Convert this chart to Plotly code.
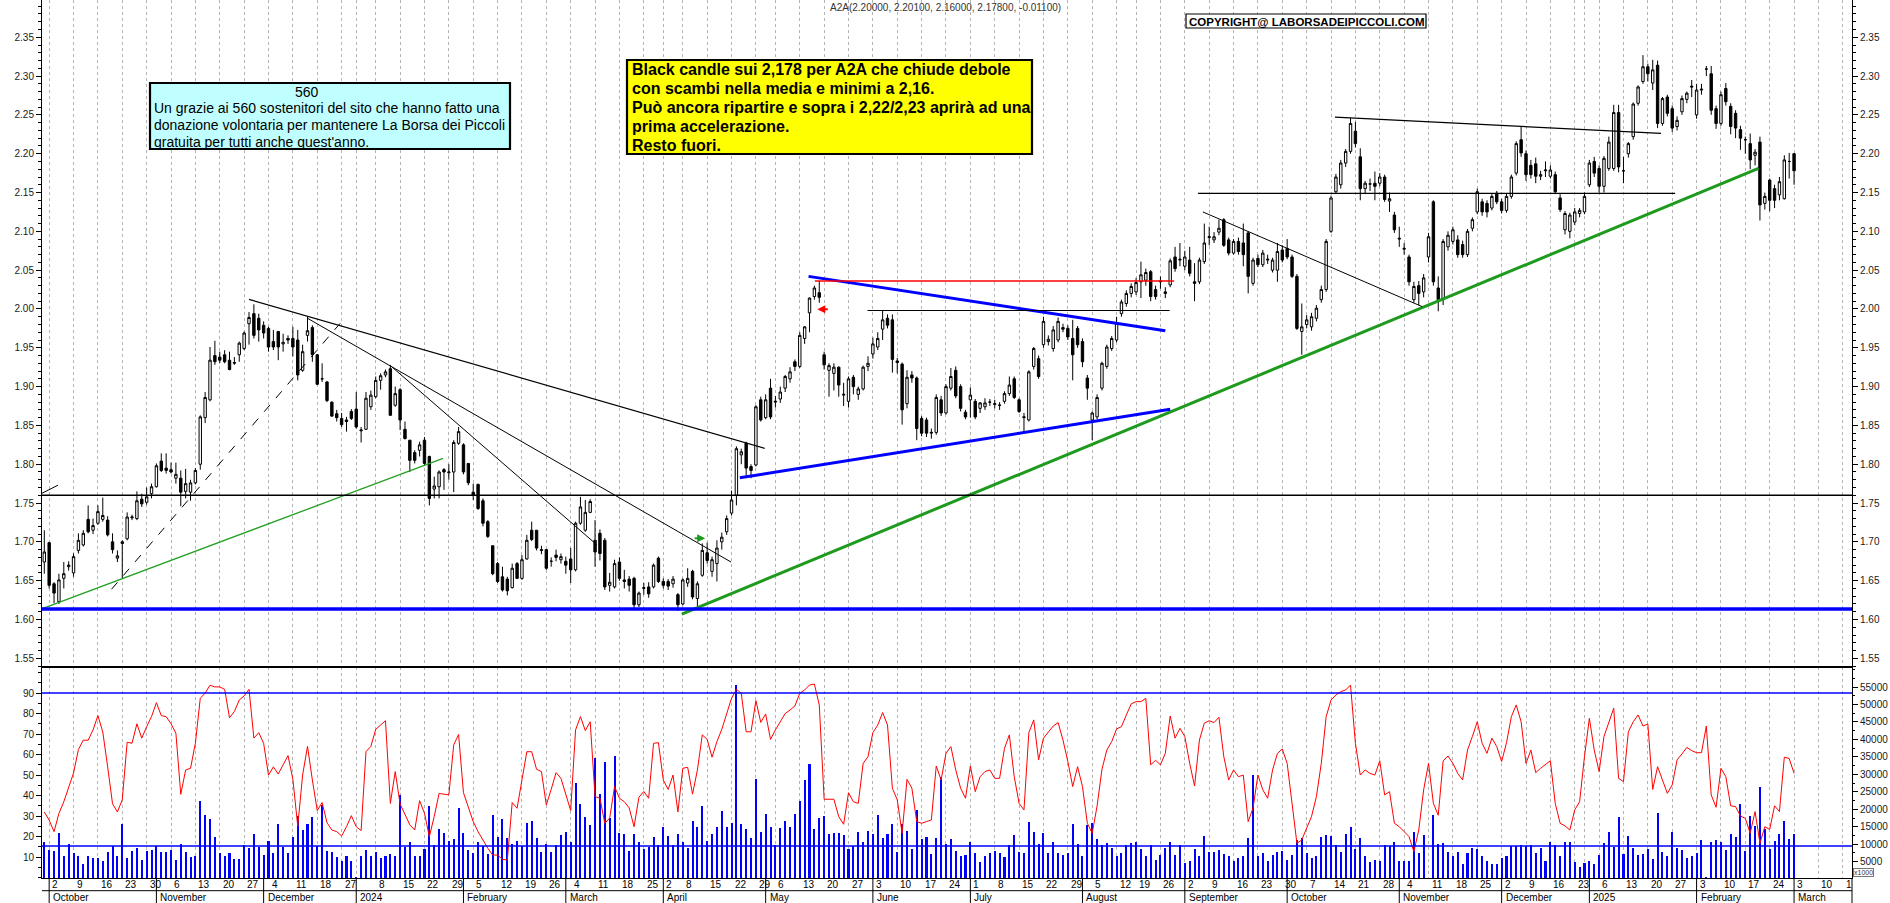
import pandas as pd
import plotly.graph_objects as go

# ---------------------------------------------------------------- data
TITLE = "A2A(2.20000, 2.20100, 2.16000, 2.17800, -0.01100)"
COPYRIGHT = "COPYRIGHT@ LABORSADEIPICCOLI.COM"
CYAN_TITLE = "560"
CYAN_LINES = [
    "Un grazie ai 560 sostenitori del sito che hanno fatto una",
    "donazione volontaria per mantenere La Borsa dei Piccoli",
    "gratuita per tutti anche quest'anno.",
]
YELLOW_LINES = [
    "Black candle sui 2,178 per A2A che chiude debole",
    "con scambi nella media e minimi a 2,16.",
    "Può ancora ripartire e sopra i 2,22/2,23 aprirà ad una",
    "prima accelerazione.",
    "Resto fuori.",
]

FIRST_SESSION = "2023-09-29"
AXIS_END = "2025-03-21"
HOLIDAYS = ["2023-12-25", "2023-12-26", "2024-01-01", "2024-03-29", "2024-04-01",
            "2024-05-01", "2024-08-15", "2024-12-24", "2024-12-25", "2024-12-26",
            "2024-12-31", "2025-01-01"]
SKIP_DAY_LABELS = ["2024-01-02", "2024-12-30"]
MONTH_NAMES = {2: "February", 3: "March", 4: "April", 5: "May", 6: "June", 7: "July",
               8: "August", 9: "September", 10: "October", 11: "November", 12: "December"}

# (open, high, low, close) per session
OHLC_2023 = [  # sessions 0-63
    (1.674,1.715,1.659,1.687),(1.699,1.700,1.640,1.644),(1.646,1.648,1.621,1.634),(1.623,1.659,1.620,1.651),(1.653,1.674,1.640,1.659),
    (1.668,1.675,1.663,1.670),(1.660,1.685,1.655,1.681),(1.689,1.711,1.685,1.702),(1.696,1.715,1.694,1.711),(1.729,1.747,1.711,1.713),
    (1.715,1.730,1.710,1.721),(1.724,1.747,1.722,1.739),(1.729,1.757,1.726,1.734),(1.728,1.733,1.707,1.709),(1.700,1.711,1.685,1.690),
    (1.679,1.689,1.674,1.682),(1.700,1.702,1.653,1.698),(1.704,1.738,1.702,1.732),(1.731,1.735,1.728,1.732),(1.730,1.765,1.728,1.753),
    (1.755,1.762,1.745,1.749),(1.751,1.770,1.748,1.758),(1.762,1.775,1.756,1.771),(1.771,1.801,1.770,1.798),(1.804,1.814,1.790,1.792),
    (1.795,1.814,1.788,1.792),(1.793,1.802,1.788,1.790),(1.782,1.802,1.775,1.787),(1.782,1.792,1.746,1.764),(1.765,1.794,1.756,1.775),
    (1.764,1.780,1.753,1.776),(1.776,1.795,1.774,1.792),(1.800,1.863,1.793,1.861),(1.860,1.893,1.853,1.886),(1.883,1.951,1.881,1.934),
    (1.940,1.959,1.928,1.932),(1.938,1.945,1.930,1.934),(1.941,1.947,1.930,1.932),(1.934,1.945,1.921,1.922),(1.930,1.938,1.928,1.931),
    (1.941,1.958,1.932,1.956),(1.949,1.971,1.947,1.969),(1.981,1.996,1.954,1.989),(1.994,2.006,1.962,1.966),(1.988,1.994,1.958,1.973),
    (1.979,1.984,1.962,1.969),(1.975,1.977,1.945,1.951),(1.958,1.973,1.947,1.951),(1.971,1.971,1.934,1.951),(1.955,1.968,1.945,1.957),
    (1.962,1.966,1.955,1.960),(1.962,1.977,1.939,1.951),(1.960,1.973,1.908,1.915),(1.921,1.954,1.919,1.945),(1.966,1.990,1.958,1.972),
    (1.976,1.979,1.932,1.941),(1.941,1.942,1.902,1.903),(1.910,1.930,1.906,1.910),(1.906,1.907,1.880,1.882),(1.880,1.881,1.861,1.862),
    (1.865,1.870,1.855,1.860),(1.859,1.866,1.848,1.851),(1.857,1.861,1.842,1.855),(1.868,1.871,1.857,1.859),
]
OHLC_2024_Q1 = [  # sessions 64-126
    (1.871,1.893,1.846,1.848),(1.843,1.848,1.828,1.844),(1.845,1.893,1.844,1.885),(1.874,1.895,1.870,1.889),(1.887,1.913,1.885,1.908),(1.908,1.917,1.896,1.914),
    (1.915,1.922,1.912,1.919),(1.923,1.928,1.863,1.863),(1.876,1.900,1.874,1.891),(1.896,1.898,1.844,1.857),(1.845,1.855,1.832,1.833),
    (1.831,1.831,1.790,1.805),(1.815,1.818,1.801,1.805),(1.818,1.829,1.810,1.825),(1.831,1.835,1.799,1.801),(1.810,1.811,1.747,1.756),
    (1.768,1.784,1.756,1.772),(1.771,1.792,1.756,1.790),(1.793,1.795,1.767,1.790),(1.789,1.800,1.780,1.790),(1.790,1.831,1.764,1.828),
    (1.827,1.848,1.825,1.842),(1.825,1.827,1.787,1.790),(1.801,1.801,1.773,1.776),(1.764,1.775,1.754,1.760),(1.774,1.775,1.741,1.743),
    (1.753,1.756,1.720,1.724),(1.726,1.728,1.705,1.707),(1.695,1.695,1.657,1.659),(1.672,1.674,1.647,1.649),(1.655,1.668,1.636,1.638),
    (1.652,1.655,1.631,1.637),(1.641,1.672,1.640,1.666),(1.672,1.674,1.652,1.653),(1.653,1.683,1.651,1.677),(1.678,1.709,1.677,1.702),
    (1.715,1.726,1.701,1.703),(1.715,1.715,1.689,1.692),(1.690,1.695,1.684,1.689),(1.690,1.691,1.664,1.666),(1.675,1.680,1.668,1.675),
    (1.683,1.690,1.675,1.680),(1.677,1.685,1.672,1.681),(1.675,1.681,1.659,1.670),(1.678,1.692,1.647,1.664),(1.664,1.726,1.662,1.724),
    (1.724,1.758,1.722,1.745),(1.715,1.754,1.713,1.738),(1.738,1.755,1.737,1.752),(1.702,1.728,1.668,1.687),(1.711,1.716,1.676,1.685),
    (1.702,1.705,1.638,1.642),(1.644,1.660,1.636,1.648),(1.642,1.677,1.640,1.672),(1.674,1.680,1.650,1.653),(1.651,1.664,1.640,1.649),
    (1.652,1.656,1.636,1.644),(1.653,1.655,1.612,1.619),(1.619,1.636,1.616,1.634),(1.640,1.647,1.632,1.641),(1.642,1.648,1.628,1.633),
    (1.642,1.672,1.640,1.670),(1.679,1.681,1.647,1.649),
]
OHLC_2024_Q2 = [  # sessions 127-189
    (1.649,1.653,1.640,1.644),(1.649,1.652,1.638,1.643),(1.646,1.656,1.641,1.652),
    (1.632,1.634,1.611,1.619),(1.620,1.653,1.618,1.651),(1.647,1.666,1.642,1.653),(1.662,1.664,1.626,1.629),(1.627,1.649,1.617,1.646),
    (1.657,1.698,1.655,1.689),(1.686,1.699,1.672,1.676),(1.662,1.681,1.655,1.677),(1.672,1.702,1.649,1.692),(1.700,1.712,1.690,1.706),
    (1.713,1.734,1.709,1.730),(1.737,1.766,1.734,1.754),(1.760,1.823,1.747,1.820),(1.812,1.820,1.800,1.816),(1.827,1.829,1.785,1.795),
    (1.797,1.800,1.782,1.792),(1.799,1.876,1.797,1.874),(1.883,1.887,1.855,1.857),(1.860,1.890,1.858,1.883),(1.898,1.910,1.858,1.861),
    (1.880,1.888,1.873,1.881),(1.884,1.900,1.879,1.893),(1.898,1.915,1.893,1.913),(1.910,1.925,1.905,1.919),(1.932,1.935,1.920,1.926),
    (1.926,1.970,1.924,1.966),(1.962,1.978,1.955,1.977),(1.995,2.015,1.970,2.014),(2.016,2.030,2.012,2.027),(2.021,2.036,2.008,2.015),
    (1.941,1.945,1.922,1.928),(1.921,1.930,1.887,1.927),(1.917,1.930,1.895,1.925),(1.925,1.926,1.887,1.902),(1.889,1.905,1.875,1.890),
    (1.881,1.913,1.873,1.910),(1.912,1.915,1.890,1.900),(1.890,1.900,1.883,1.897),(1.897,1.927,1.895,1.925),(1.926,1.939,1.920,1.930),
    (1.942,1.963,1.936,1.955),(1.951,1.970,1.947,1.962),(1.974,1.998,1.960,1.986),(1.988,1.993,1.975,1.979),(1.986,1.993,1.918,1.935),
    (1.933,1.937,1.917,1.931),(1.929,1.931,1.851,1.870),(1.878,1.921,1.872,1.912),(1.915,1.920,1.905,1.911),(1.911,1.913,1.831,1.846),
    (1.859,1.862,1.836,1.840),(1.857,1.860,1.835,1.840),(1.840,1.846,1.833,1.841),(1.841,1.890,1.838,1.886),(1.883,1.888,1.862,1.866),
    (1.866,1.903,1.864,1.900),(1.898,1.924,1.895,1.913),(1.921,1.926,1.885,1.888),(1.900,1.903,1.868,1.872),(1.867,1.870,1.858,1.861),
]
OHLC_2024_Q3 = [  # sessions 190-253
    (1.883,1.899,1.860,1.889),(1.881,1.884,1.858,1.861),(1.872,1.880,1.866,1.879),(1.874,1.885,1.870,1.879),(1.880,1.884,1.875,1.880),
    (1.877,1.883,1.872,1.878),(1.876,1.880,1.870,1.876),(1.881,1.894,1.878,1.891),(1.891,1.913,1.888,1.902),(1.910,1.913,1.884,1.886),
    (1.883,1.885,1.866,1.868),(1.860,1.866,1.840,1.861),(1.857,1.921,1.855,1.919),(1.926,1.951,1.922,1.949),(1.936,1.940,1.910,1.913),
    (1.954,1.990,1.950,1.984),(1.958,1.966,1.953,1.961),(1.949,1.978,1.945,1.973),(1.960,1.989,1.957,1.984),(1.976,1.981,1.970,1.974),
    (1.975,1.979,1.960,1.964),(1.962,1.986,1.908,1.941),(1.975,1.978,1.950,1.954),(1.958,1.962,1.925,1.932),(1.911,1.915,1.883,1.898),
    (1.857,1.868,1.831,1.866),(1.861,1.890,1.858,1.886),(1.898,1.932,1.895,1.930),(1.926,1.954,1.923,1.951),(1.949,1.965,1.946,1.962),
    (1.960,1.990,1.957,1.982),(1.994,2.012,1.990,2.009),(2.007,2.024,2.003,2.020),(2.020,2.033,2.015,2.029),(2.022,2.040,2.018,2.034),
    (2.035,2.061,2.014,2.044),(2.037,2.052,2.030,2.047),(2.048,2.050,2.010,2.016),(2.025,2.030,2.012,2.016),(2.035,2.042,2.026,2.036),
    (2.020,2.028,2.014,2.022),(2.031,2.065,2.028,2.062),(2.067,2.080,2.048,2.052),(2.063,2.085,2.055,2.064),(2.055,2.075,2.050,2.067),
    (2.063,2.080,2.042,2.046),(2.035,2.059,2.010,2.033),(2.035,2.066,2.032,2.063),(2.061,2.110,2.058,2.085),(2.092,2.106,2.082,2.093),
    (2.089,2.099,2.085,2.093),(2.099,2.115,2.095,2.104),(2.115,2.117,2.080,2.082),(2.089,2.092,2.069,2.072),(2.072,2.090,2.070,2.087),
    (2.087,2.092,2.070,2.074),(2.085,2.110,2.055,2.070),(2.098,2.100,2.020,2.042),(2.033,2.066,2.030,2.063),(2.065,2.070,2.054,2.057),
    (2.057,2.076,2.054,2.072),(2.063,2.070,2.058,2.064),(2.050,2.066,2.047,2.063),(2.050,2.085,2.035,2.074),
]
OHLC_2024_Q4 = [  # sessions 254-315
    (2.076,2.082,2.060,2.063),(2.078,2.090,2.064,2.067),(2.067,2.070,2.040,2.042),(2.042,2.045,1.973,1.975),(1.971,2.007,1.941,1.977),(1.980,1.992,1.975,1.986),
    (1.977,1.995,1.972,1.990),(1.988,2.005,1.984,2.001),(2.012,2.030,2.008,2.025),(2.025,2.090,2.022,2.087),(2.100,2.146,2.098,2.143),
    (2.151,2.174,2.148,2.170),(2.160,2.192,2.155,2.188),(2.188,2.206,2.183,2.203),(2.203,2.246,2.200,2.239),(2.229,2.241,2.208,2.213),
    (2.196,2.207,2.140,2.155),(2.155,2.165,2.148,2.162),(2.161,2.168,2.152,2.161),(2.162,2.177,2.140,2.158),(2.162,2.175,2.158,2.170),
    (2.170,2.173,2.138,2.141),(2.139,2.150,2.125,2.142),(2.121,2.125,2.098,2.102),(2.090,2.106,2.080,2.091),(2.077,2.085,2.070,2.078),
    (2.067,2.070,2.030,2.035),(2.012,2.035,2.008,2.029),(2.030,2.036,2.005,2.020),(2.022,2.045,2.015,2.040),(2.067,2.098,2.060,2.093),
    (2.138,2.140,2.030,2.035),(2.027,2.042,1.997,2.012),(2.012,2.090,2.005,2.087),(2.080,2.100,2.075,2.095),(2.087,2.106,2.083,2.102),
    (2.089,2.095,2.066,2.070),(2.083,2.088,2.066,2.070),(2.070,2.103,2.067,2.100),(2.104,2.118,2.100,2.115),(2.125,2.155,2.122,2.151),
    (2.138,2.142,2.120,2.125),(2.136,2.140,2.118,2.125),(2.130,2.148,2.127,2.145),(2.149,2.152,2.135,2.138),(2.138,2.142,2.123,2.127),
    (2.127,2.149,2.124,2.145),(2.145,2.173,2.142,2.170),(2.175,2.216,2.172,2.213),(2.218,2.235,2.196,2.201),(2.200,2.204,2.165,2.173),
    (2.185,2.192,2.168,2.173),(2.187,2.195,2.162,2.171),(2.171,2.178,2.166,2.173),(2.178,2.190,2.170,2.179),(2.171,2.185,2.168,2.179),
    (2.173,2.177,2.148,2.151),(2.143,2.148,2.125,2.128),(2.102,2.126,2.096,2.123),(2.100,2.124,2.091,2.121),(2.112,2.130,2.108,2.125),
    (2.123,2.130,2.118,2.127),
]
OHLC_2025 = [  # sessions 316-359
    (2.125,2.150,2.122,2.145),(2.160,2.192,2.157,2.188),(2.190,2.196,2.170,2.175),(2.181,2.185,2.150,2.158),
    (2.158,2.197,2.150,2.194),(2.181,2.222,2.178,2.215),(2.181,2.263,2.178,2.253),(2.253,2.263,2.176,2.183),(2.178,2.196,2.162,2.178),
    (2.200,2.215,2.195,2.213),(2.222,2.266,2.218,2.264),(2.265,2.288,2.262,2.286),(2.293,2.327,2.290,2.312),(2.312,2.316,2.293,2.303),
    (2.291,2.321,2.282,2.308),(2.314,2.320,2.233,2.239),(2.239,2.273,2.236,2.271),(2.273,2.276,2.248,2.252),(2.258,2.262,2.228,2.233),
    (2.235,2.248,2.230,2.243),(2.254,2.275,2.250,2.271),(2.270,2.280,2.265,2.278),(2.287,2.295,2.273,2.286),(2.250,2.290,2.245,2.282),
    (2.282,2.290,2.276,2.283),(2.309,2.313,2.300,2.309),(2.303,2.313,2.250,2.256),(2.258,2.262,2.232,2.239),(2.239,2.280,2.236,2.276),
    (2.284,2.291,2.262,2.267),(2.261,2.265,2.225,2.235),(2.252,2.256,2.220,2.233),(2.231,2.236,2.205,2.220),(2.218,2.222,2.200,2.218),
    (2.213,2.226,2.180,2.192),(2.198,2.206,2.185,2.202),(2.215,2.222,2.114,2.134),(2.136,2.150,2.128,2.145),(2.166,2.168,2.126,2.140),
    (2.155,2.160,2.130,2.140),(2.147,2.170,2.140,2.164),(2.142,2.198,2.141,2.192),(2.190,2.201,2.168,2.190),(2.200,2.201,2.160,2.178),
]

VOLUME_A = [  # sessions 0-124
    10700, 8400, 8100, 13300, 6700, 10100, 7400, 6600, 4400, 6600,
    6000, 6200, 5300, 7900, 9500, 6700, 15800, 6200, 8100, 8800,
    5500, 8100, 8400, 9500, 7900, 7900, 8400, 5500, 10100, 7800,
    6300, 6500, 22500, 18400, 17300, 12200, 7400, 6600, 7400, 5700,
    5700, 9700, 8800, 12900, 9100, 6900, 11000, 7600, 15800, 9300,
    7600, 12000, 18200, 14100, 15700, 17900, 9500, 21200, 8100, 7900,
    6300, 5300, 6500, 5200, 500, 6600, 8400, 6600, 7700, 6000,
    6700, 7200, 6600, 24100, 9100, 10700, 6600, 6500, 8600, 21000,
    9800, 14400, 13100, 11000, 11400, 20300, 13100, 8400, 7400, 10700,
    9600, 7200, 18400, 12200, 17200, 11700, 10100, 10800, 9500, 16200,
    16800, 11700, 7900, 10000, 7900, 9800, 12600, 13600, 10700, 27400,
    21500, 17700, 15500, 34600, 24400, 33500, 17400, 35400, 13100, 12800,
    8200, 12900, 10600, 8600, 9100,
]
VOLUME_B = [  # sessions 125-253
    12200, 9800, 15000, 12500, 9800, 12900, 10700, 8800, 16700, 14800,
    21000, 10900, 12900, 14800, 19500, 14900, 16200, 55600, 15800, 14400,
    11700, 28600, 13600, 18800, 15000, 9800, 14600, 16700, 14900, 18800,
    22500, 28400, 33000, 14500, 17600, 18200, 12900, 13100, 13100, 12700,
    8600, 9500, 13400, 10600, 13800, 12800, 18300, 11800, 12800, 15800,
    7800, 15800, 13800, 8600, 19800, 11400, 12000, 7200, 11900, 29300,
    10000, 11400, 8200, 6600, 6900, 10700, 7400, 5000, 6500, 7400,
    8200, 7400, 6300, 9800, 12700, 7900, 7400, 16300, 13400, 10000,
    13100, 7600, 10600, 7600, 6800, 7400, 15800, 10000, 6600, 15500,
    16000, 11400, 9800, 10500, 8800, 6600, 7400, 9800, 10300, 10600,
    8600, 6600, 9800, 5500, 6900, 8800, 10700, 6900, 9800, 4500,
    5300, 8600, 6600, 12400, 7900, 7900, 8400, 7100, 6500, 5300,
    6000, 6700, 11900, 29800, 6600, 7400, 5300, 6900, 7900,
]
VOLUME_C = [  # sessions 254-359
    8100, 5500, 6900, 11200, 11900, 7400, 6000, 6600, 12000, 12700,
    12500, 9800, 7900, 13000, 14900, 8600, 11700, 6600, 4800, 5500,
    5200, 9800, 9500, 10600, 5200, 5200, 5200, 13400, 7400, 12600,
    300, 18400, 10200, 10300, 7800, 6500, 7800, 4400, 7500, 8800,
    8600, 6700, 5300, 4400, 4300, 6000, 6600, 9500, 9500, 9700,
    9600, 9800, 7400, 9000, 5200, 10700, 9700, 6500, 10600, 10600,
    5000, 3600, 4700, 5300, 4300, 6900, 10300, 13500, 9300, 17800,
    7200, 12400, 8800, 6900, 7200, 8600, 5700, 18900, 7800, 6700,
    13600, 8800, 8400, 6100, 6600, 7600, 11200, 700, 10700, 11200,
    10700, 8400, 12900, 12200, 21400, 8200, 18100, 15200, 26300, 14300,
    8700, 10900, 12900, 16700, 11400, 12900,
]

OSC_A = [  # sessions 0-124
    32, 28, 22.4, 31.3, 37, 44, 51, 62.5, 67, 67,
    72, 79, 71, 54, 36, 32, 38, 66, 65.5, 75,
    68, 73.6, 78.5, 85.3, 79, 78.5, 75, 70.4, 40.6, 52.5,
    53.3, 65.5, 87.4, 90, 93.8, 93, 93, 91.8, 78, 81,
    86.6, 88.6, 91.8, 68, 70.7, 65.5, 50, 54, 50.5, 55,
    59.5, 48, 25, 50, 64, 47.6, 32.7, 36.6, 26.8, 23.2,
    22.4, 20.3, 24.8, 30.2, 24.8, 22.9, 61.4, 64, 72.3, 74.4,
    76.5, 36.2, 51.7, 35.9, 31, 25.7, 23.2, 37.5, 31.4, 20,
    29.8, 41, 40.7, 40.3, 64.7, 69.8, 41.4, 34.6, 27.3, 22.4,
    18.3, 14.3, 11, 11, 8.9, 8.6, 36.6, 33.8, 47.6, 61.4,
    61.4, 52.8, 51.7, 35.4, 43, 51.2, 48.4, 40.3, 32.7, 72,
    78.5, 71.7, 76, 39.5, 38.7, 26.5, 29, 44.4, 38.7, 37,
    34, 24.8, 39.2, 42, 38.7,
]
OSC_B = [  # sessions 125-253
    65.5, 65.8, 47.6, 43, 50, 32, 53.3, 53.8, 40.7, 52.5,
    69.6, 67.4, 58.7, 66.3, 72.3, 80, 87.4, 91.8, 89.9, 71.1,
    71.1, 86.3, 75.7, 79.8, 67.4, 72, 76, 80, 81.7, 83.7,
    89.9, 91.5, 93.9, 94.4, 84.2, 38.2, 38.2, 38.2, 29.7, 26,
    41.4, 37, 36.2, 55.7, 59, 70.7, 74.4, 80.5, 74.4, 43.6,
    37.9, 21.6, 47.9, 43.6, 27.3, 26.5, 27.3, 28.1, 54.4, 47.6,
    60.6, 63.9, 52.5, 43.6, 38.7, 54.4, 41.9, 49.2, 51.7, 52.5,
    48.4, 48.4, 63, 69.6, 49.2, 36.2, 33, 70.7, 76.9, 57.4,
    68, 71.1, 73.9, 75.6, 67.1, 56.6, 44.4, 54.1, 44.4, 26.5,
    21.6, 34.9, 52.8, 62.2, 66.3, 72.5, 73.6, 79.3, 84.7, 85.8,
    85.8, 87.4, 55, 57.2, 55, 60.6, 78.8, 68, 72.8, 68.8,
    55.7, 44.7, 67.1, 75.3, 76.5, 75.6, 78.2, 59, 47.6, 52.5,
    49.2, 50, 27.3, 34, 50, 42.8, 38.7, 52.5, 60.6,
]
OSC_C = [  # sessions 254-359
    62.7, 55.7, 36.2, 16.7, 18.4, 24, 29.8, 39.5, 55.7, 78.5,
    86.6, 89, 90.7, 91.5, 93.9, 65.5, 50, 52.5, 50.8, 50,
    57, 40.3, 41.9, 26.5, 24.8, 22.4, 20, 12.7, 23.2, 42.8,
    55.7, 36.2, 30.4, 56.9, 59.3, 55.7, 50.8, 47.6, 62.2, 68.8,
    76, 65.5, 60.6, 68, 63.9, 56.6, 65.8, 78.5, 84.2, 76,
    55.7, 62.2, 51.2, 53.3, 55, 57, 36.2, 26.5, 25.2, 23.2,
    33, 37, 59, 77.7, 62.2, 51.7, 68.8, 75.3, 82.6, 48.4,
    46.8, 71.1, 76, 79.3, 73.9, 74.9, 43, 54.1, 47.6, 41.1,
    45.2, 57.4, 60.3, 63.5, 61.9, 60.9, 60.9, 73.9, 40.3, 34.3,
    53.3, 49.2, 35, 34.6, 30, 28.9, 21.6, 32.2, 16.7, 24.8,
    23.5, 35, 32.2, 58.7, 58.1, 50.8,
]

PRICE_TICKS = [1.55, 1.60, 1.65, 1.70, 1.75, 1.80, 1.85, 1.90, 1.95, 2.00,
               2.05, 2.10, 2.15, 2.20, 2.25, 2.30, 2.35]
OSC_TICKS = [10, 20, 30, 40, 50, 60, 70, 80, 90]
VOL_TICKS = [5000, 10000, 15000, 20000, 25000, 30000, 35000, 40000, 45000, 50000, 55000]

# drawn lines: (session0, price0, session1, price1)
TRENDLINES = {
    "res_long":     (42.0, 2.0124, 147.8, 1.8205),
    "res_mid":      (54.0, 1.988, 140.9, 1.674),
    "res_short":    (71.2, 1.926, 113.4, 1.696),
    "sup_dashed":   (13.8, 1.639, 60.7, 1.9815),
    "sup_green_thin": (-0.4, 1.614, 81.8, 1.8075),
    "stub":         (-0.5, 1.7625, 2.8, 1.773),
    "sup_green":    (130.8, 1.607, 351.7, 2.181),
    "tri_top":      (156.8, 2.042, 230.0, 1.972),
    "tri_bottom":   (142.7, 1.7826, 231.0, 1.8707),
    "lvl_1998":     (168.9, 1.998, 230.9, 1.998),
    "lvl_2036":     (158.1, 2.036, 231.8, 2.036),
    "res_autumn":   (237.7, 2.125, 282.7, 2.003),
    "res_top":      (264.8, 2.247, 331.7, 2.2263),
    "lvl_2149":     (236.7, 2.149, 334.6, 2.149),
}
FULL_PRICE_LEVELS = {"lvl_176": 1.760, "lvl_1614": 1.6135}
OSC_LEVELS = [90, 15.4]
ARROWS = {"red": (158.6, 1.9996), "green": (135.6, 1.7046)}

# ---------------------------------------------------------------- styles
LINE_STYLE = {
    "res_long": ("black", 1.2, "solid"), "res_mid": ("black", 1, "solid"),
    "res_short": ("black", 1, "solid"), "sup_dashed": ("black", 1, "dash"),
    "sup_green_thin": ("#22a022", 1.3, "solid"), "stub": ("black", 1, "solid"),
    "sup_green": ("#1e9a1e", 3, "solid"), "tri_top": ("#0000ff", 3, "solid"),
    "tri_bottom": ("#0000ff", 3, "solid"), "lvl_1998": ("black", 1.2, "solid"),
    "lvl_2036": ("#ff0000", 1.5, "solid"), "res_autumn": ("black", 1, "solid"),
    "res_top": ("black", 1.2, "solid"), "lvl_2149": ("black", 1.3, "solid"),
}
FULL_STYLE = {"lvl_176": ("black", 1.5), "lvl_1614": ("#0000ff", 3.5)}

W, H = 1890, 903
ML, MR, MT, MB = 42, 38, 0, 25
PW, PH = W - ML - MR, H - MT - MB
SESSION_PX = 4.874
FIRST_PX = 44.3  # pixel centre of session 0


def pxx(v):
    return (v - ML) / PW


def pyy(v):
    return (H - MB - v) / PH


SPLIT = pyy(667)
X_RANGE = [(ML - FIRST_PX) / SESSION_PX, (W - MR - FIRST_PX) / SESSION_PX]

# ---------------------------------------------------------------- build
ohlc = OHLC_2023 + OHLC_2024_Q1 + OHLC_2024_Q2 + OHLC_2024_Q3 + OHLC_2024_Q4 + OHLC_2025
n = len(ohlc)
xs = list(range(n))
opens = [r[0] for r in ohlc]
highs = [r[1] for r in ohlc]
lows = [r[2] for r in ohlc]
closes = [r[3] for r in ohlc]
volume = VOLUME_A + VOLUME_B + VOLUME_C
osc = OSC_A + OSC_B + OSC_C

cal = pd.bdate_range(FIRST_SESSION, AXIS_END)
cal = cal[~cal.isin(pd.to_datetime(HOLIDAYS))]
week_starts = [i for i in range(1, len(cal))
               if cal[i].isocalendar()[1] != cal[i - 1].isocalendar()[1] and i <= X_RANGE[1]]
month_starts = [i for i in range(1, len(cal)) if cal[i].month != cal[i - 1].month and i <= X_RANGE[1]]

fig = go.Figure()
fig.add_trace(go.Bar(x=xs, y=volume, xaxis="x", yaxis="y2", width=0.42,
                     marker=dict(color="#0000ff", line=dict(width=0)), hoverinfo="skip"))
fig.add_trace(go.Scatter(x=xs, y=osc, xaxis="x", yaxis="y3", mode="lines",
                         line=dict(color="#ff0000", width=1), hoverinfo="skip"))
fig.add_trace(go.Candlestick(x=xs, open=opens, high=highs, low=lows, close=closes,
                             xaxis="x", yaxis="y", whiskerwidth=0,
                             increasing=dict(line=dict(color="black", width=1), fillcolor="white"),
                             decreasing=dict(line=dict(color="black", width=1), fillcolor="black"),
                             hoverinfo="skip"))
fig.add_trace(go.Scatter(x=[xs[0]], y=[closes[0]], xaxis="x", yaxis="y4", mode="markers",
                         marker=dict(opacity=0), hoverinfo="skip"))

tick_font = dict(family="Liberation Sans, Arial, sans-serif", size=10, color="#1a1a1a")
common = dict(showgrid=False, zeroline=False, showline=True, linecolor="black", linewidth=1,
              ticks="outside", ticklen=5, tickwidth=1, tickcolor="black", tickfont=tick_font,
              fixedrange=True)
price_range = [1.5388, 2.398]
price_axis = dict(range=price_range, tickvals=PRICE_TICKS,
                  ticktext=[f"{v:.2f}" for v in PRICE_TICKS],
                  minor=dict(dtick=0.01, tick0=1.55, ticks="outside", ticklen=3,
                             tickcolor="black", showgrid=False), **common)

shapes = []
for name, (x0, y0, x1, y1) in TRENDLINES.items():
    c, w, d = LINE_STYLE[name]
    shapes.append(dict(type="line", xref="x", yref="y", x0=x0, y0=y0, x1=x1, y1=y1,
                       line=dict(color=c, width=w, dash=d)))
for name, lvl in FULL_PRICE_LEVELS.items():
    c, w = FULL_STYLE[name]
    shapes.append(dict(type="line", xref="paper", yref="y", x0=0, x1=1, y0=lvl, y1=lvl,
                       line=dict(color=c, width=w)))
for lvl in OSC_LEVELS:
    shapes.append(dict(type="line", xref="paper", yref="y3", x0=0, x1=1, y0=lvl, y1=lvl,
                       line=dict(color="#0000ff", width=1.5)))
# panel separator and bottom date rows
shapes.append(dict(type="line", xref="paper", yref="paper", x0=0, x1=1, y0=SPLIT, y1=SPLIT,
                   line=dict(color="black", width=1.8)))
shapes.append(dict(type="line", xref="paper", yref="paper", x0=0, x1=1, y0=pyy(890.7), y1=pyy(890.7),
                   line=dict(color="black", width=1)))
shapes.append(dict(type="line", xref="paper", yref="paper", x0=1, x1=1, y0=0, y1=pyy(903),
                   line=dict(color="black", width=1)))
for i in month_starts:
    shapes.append(dict(type="line", xref="x", yref="paper", x0=i, x1=i, y0=0, y1=pyy(903),
                       line=dict(color="black", width=1)))
# text boxes
shapes.append(dict(type="rect", xref="paper", yref="paper", x0=pxx(150), x1=pxx(510),
                   y0=pyy(149), y1=pyy(83), fillcolor="#c0ffff", line=dict(color="black", width=2.2)))
shapes.append(dict(type="rect", xref="paper", yref="paper", x0=pxx(627), x1=pxx(1032),
                   y0=pyy(154), y1=pyy(60), fillcolor="#ffff00", line=dict(color="black", width=2.2)))
shapes.append(dict(type="rect", xref="paper", yref="paper", x0=pxx(1186), x1=pxx(1426),
                   y0=pyy(28), y1=pyy(14), fillcolor="white", line=dict(color="black", width=1.2)))

ann = []
sans = "Liberation Sans, Arial, sans-serif"


def text(x, y, s, size, bold=False, anchor="left", color="black", family=sans):
    ann.append(dict(xref="paper", yref="paper", x=pxx(x), y=pyy(y), text=f"<b>{s}</b>" if bold else s,
                    showarrow=False, xanchor=anchor, yanchor="middle",
                    font=dict(family=family, size=size, color=color)))


text(945, 8, TITLE, 10, anchor="center", color="#333333")
text(1306, 21.5, COPYRIGHT, 11.5, bold=True, anchor="center")
text(307, 92.5, CYAN_TITLE, 14, anchor="center")
for k, s in enumerate(CYAN_LINES):
    text(152, 108.5 + k * 16.6, s, 14)
for k, s in enumerate(YELLOW_LINES):
    text(630, 69.5 + k * 19.05, s, 16, bold=True)

right_px = W - MR
skip = set(pd.to_datetime(SKIP_DAY_LABELS))
for i in week_starts:
    if cal[i] in skip:
        continue
    label = str(cal[i].day)
    left_px = FIRST_PX + SESSION_PX * i + 2
    fit = int((right_px - left_px) / 5.6)
    label = label[:max(fit, 0)]
    if label:
        ann.append(dict(xref="x", yref="paper", x=i, y=pyy(884.5), text=label, showarrow=False,
                        xanchor="left", yanchor="middle", xshift=1,
                        font=dict(family=sans, size=10, color="black")))
for i in month_starts:
    d = cal[i]
    label = str(d.year) if d.month == 1 else MONTH_NAMES[d.month]
    ann.append(dict(xref="x", yref="paper", x=i, y=pyy(897.5), text=label, showarrow=False,
                    xanchor="left", yanchor="middle", xshift=2,
                    font=dict(family=sans, size=10, color="black")))
ann.append(dict(xref="paper", yref="paper", x=pxx(1853), y=pyy(872.5), text="x1000", showarrow=False,
                xanchor="left", yanchor="middle", font=dict(family=sans, size=7, color="#333"),
                bordercolor="#777", borderwidth=1, borderpad=0, bgcolor="white"))
# small arrows
ann.append(dict(xref="x", yref="y", x=ARROWS["red"][0], y=ARROWS["red"][1], ax=12, ay=0, text="",
                showarrow=True, arrowhead=2, arrowsize=0.8, arrowwidth=2, arrowcolor="#ff0000"))
ann.append(dict(xref="x", yref="y", x=ARROWS["green"][0], y=ARROWS["green"][1], ax=-12, ay=0, text="",
                showarrow=True, arrowhead=2, arrowsize=0.8, arrowwidth=2, arrowcolor="#1e9a1e"))

fig.update_layout(
    width=W, height=H, margin=dict(l=ML, r=MR, t=MT, b=MB, autoexpand=False),
    paper_bgcolor="white", plot_bgcolor="white", showlegend=False, hovermode=False,
    bargap=0,
    xaxis=dict(domain=[0, 1], anchor="y2", range=X_RANGE, tickvals=week_starts,
               showticklabels=False, ticks="", showgrid=True, gridcolor="#b4b4b4",
               griddash="3px,3px", gridwidth=1, showline=True, linecolor="black", linewidth=1,
               zeroline=False, rangeslider=dict(visible=False), fixedrange=True),
    yaxis=dict(domain=[SPLIT, 1], anchor="x", side="left", **price_axis),
    yaxis4=dict(overlaying="y", anchor="x", side="right", **price_axis),
    yaxis2=dict(domain=[0, SPLIT], anchor="x", side="right", range=[343, 60730],
                tickvals=VOL_TICKS, ticktext=[str(v) for v in VOL_TICKS],
                minor=dict(dtick=2500, tick0=0, ticks="outside", ticklen=2, tickcolor="black",
                           showgrid=False), **common),
    yaxis3=dict(overlaying="y2", anchor="x", side="left", range=[-0.2, 102.7],
                tickvals=OSC_TICKS, ticktext=[str(v) for v in OSC_TICKS],
                minor=dict(dtick=5, tick0=0, ticks="outside", ticklen=3, tickcolor="black",
                           showgrid=False), **common),
    shapes=shapes, annotations=ann,
)

fig.write_html("out.html", config={"displayModeBar": False},
               post_script="document.body.style.margin='0px';document.body.style.padding='0px';"
                           "document.body.style.overflow='hidden';")
